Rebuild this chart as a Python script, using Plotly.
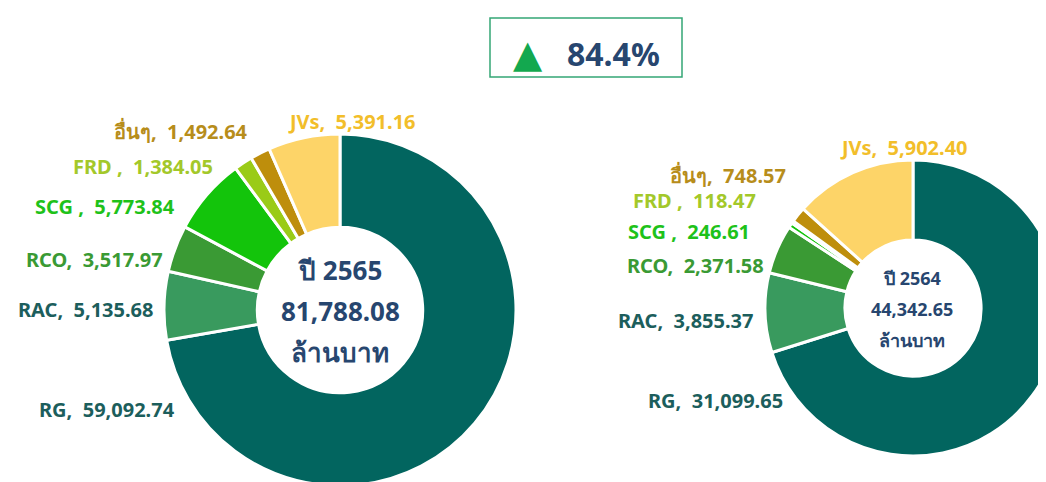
import plotly.graph_objects as go

# ---- data ----
categories = ["RG", "RAC", "RCO", "SCG", "FRD", "อื่นๆ", "JVs"]
values_2565 = [59092.74, 5135.68, 3517.97, 5773.84, 1384.05, 1492.64, 5391.16]
values_2564 = [31099.65, 3855.37, 2371.58, 246.61, 118.47, 748.57, 5902.40]
total_2565 = "81,788.08"
total_2564 = "44,342.65"
growth_label = "84.4%"

slice_colors = ["#02655F", "#399A5E", "#3A9A34", "#13C40B", "#9ACB17", "#BE8E0C", "#FDD468"]
label_colors = ["#1C5E5C", "#1C5E5C", "#3A9A34", "#1EC21A", "#A3C82A", "#B78D1B", "#F2BE2A"]

# figure is larger than the window so the donuts can run off the edges like the reference
W, H = 1080, 500
OFF = 8  # page body margin
FONT = "Noto Sans, DejaVu Sans, sans-serif"
NAVY = "#27466F"


def px(x):
    return (x - OFF) / W


def py(y):
    return 1 - (y - OFF) / H


def fmt(v):
    return f"{v:,.2f}"


def domain(cx, cy, r):
    return dict(x=[px(cx - r), px(cx + r)], y=[py(cy + r), py(cy - r)])


fig = go.Figure()

fig.add_trace(go.Pie(
    labels=categories, values=values_2565, sort=False, direction="clockwise", rotation=0,
    hole=0.47, textinfo="none", hoverinfo="label+value",
    marker=dict(colors=slice_colors, line=dict(color="white", width=3)),
    domain=domain(340, 310, 176),
))

fig.add_trace(go.Pie(
    labels=categories, values=values_2564, sort=False, direction="clockwise", rotation=0,
    hole=0.46, textinfo="none", hoverinfo="label+value",
    marker=dict(colors=slice_colors, line=dict(color="white", width=3)),
    domain=domain(913, 308, 148),
))

annotations = []

# outside labels (right edge x, centre y) in reference pixels
left_pos = {"RG": (177, 409), "RAC": (155, 309), "RCO": (165, 259), "SCG": (177, 206),
            "FRD": (215, 166), "อื่นๆ": (250, 131), "JVs": (418, 122)}
right_pos = {"RG": (785, 400), "RAC": (755, 320), "RCO": (766, 265), "SCG": (752, 232),
             "FRD": (758, 200), "อื่นๆ": (788, 175), "JVs": (970, 147)}
sep = {"SCG": " ,  ", "FRD": " ,  "}

for vals, pos in ((values_2565, left_pos), (values_2564, right_pos)):
    for cat, v, col in zip(categories, vals, label_colors):
        x, y = pos[cat]
        annotations.append(dict(
            x=px(x), y=py(y), xref="paper", yref="paper", xanchor="right", yanchor="middle",
            text=f"<b>{cat}{sep.get(cat, ',  ')}{fmt(v)}</b>", showarrow=False,
            font=dict(family=FONT, size=20, color=col),
        ))

# centre texts
for (cx, cy), year, total, size, gap in (((340, 311), "ปี 2565", total_2565, 26, 41),
                                          ((912, 309), "ปี 2564", total_2564, 18, 31)):
    for i, t in enumerate([year, total, "ล้านบาท"]):
        annotations.append(dict(
            x=px(cx), y=py(cy + (i - 1) * gap), xref="paper", yref="paper",
            xanchor="center", yanchor="middle", text=f"<b>{t}</b>", showarrow=False,
            font=dict(family=FONT, size=size, color=NAVY),
        ))

# growth box
annotations.append(dict(x=px(528), y=py(52), xref="paper", yref="paper", xanchor="center",
                        yanchor="middle", text="▲", showarrow=False,
                        font=dict(family=FONT, size=38, color="#13A84F")))
annotations.append(dict(x=px(613), y=py(54), xref="paper", yref="paper", xanchor="center",
                        yanchor="middle", text=f"<b>{growth_label}</b>", showarrow=False,
                        font=dict(family=FONT, size=32, color=NAVY)))

fig.update_layout(
    width=W, height=H, margin=dict(l=0, r=0, t=0, b=0),
    paper_bgcolor="white", plot_bgcolor="white", showlegend=False,
    annotations=annotations,
    shapes=[dict(type="rect", xref="paper", yref="paper", x0=px(490), x1=px(682),
                 y0=py(77), y1=py(18), line=dict(color="#34A775", width=1.5))],
)

fig.write_html("out.html")
